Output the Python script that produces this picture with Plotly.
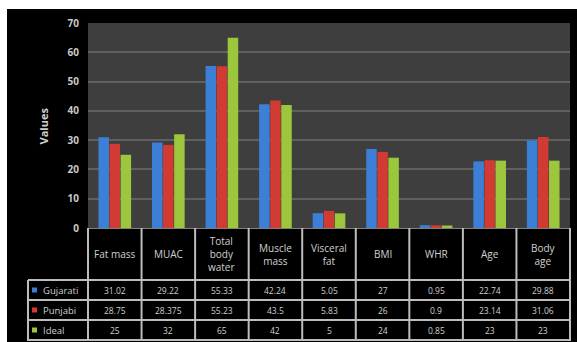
import plotly.graph_objects as go

categories = ["Fat mass", "MUAC", "Total body water", "Muscle mass", "Visceral fat",
              "BMI", "WHR", "Age", "Body age"]
header_labels = ["Fat mass", "MUAC", "Total<br>body<br>water", "Muscle<br>mass",
                 "Visceral<br>fat", "BMI", "WHR", "Age", "Body<br>age"]
series_names = ["Gujarati", "Punjabi", "Ideal"]
gujarati = [31.02, 29.22, 55.33, 42.24, 5.05, 27, 0.95, 22.74, 29.88]
punjabi = [28.75, 28.375, 55.23, 43.5, 5.83, 26, 0.9, 23.14, 31.06]
ideal = [25, 32, 65, 42, 5, 24, 0.85, 23, 23]
y_ticks = [0, 10, 20, 30, 40, 50, 60, 70]

series_values = [gujarati, punjabi, ideal]
colors = ["#3b7fd6", "#d23b33", "#9cc63c"]

W, H = 577, 342
L, R, T, B = 88, 7, 23, 114
PW, PH = W - L - R, H - T - B


def px_y(p):
    return (H - B - p) / PH


def px_x(p):
    return (p - L) / PW


fig = go.Figure()
for name, vals, col in zip(series_names, series_values, colors):
    fig.add_trace(go.Bar(x=categories, y=vals, name=name, marker_color=col,
                         marker_line_width=0))

txt_col = "#d0d0d0"
font_fam = "Open Sans, Liberation Sans, sans-serif"
ann = []
shapes = []

# header labels
for c, h in zip(categories, header_labels):
    ann.append(dict(x=c, xref="x", y=px_y(254), yref="paper", yanchor="middle",
                    text=h, showarrow=False,
                    font=dict(size=10, color=txt_col, family=font_fam), align="center"))
row_centers = [290, 310, 330]
for r, (name, vals, col) in enumerate(zip(series_names, series_values, colors)):
    yc = px_y(row_centers[r])
    for c, v in zip(categories, vals):
        ann.append(dict(x=c, xref="x", y=yc, yref="paper", yanchor="middle",
                        text=f"{v:g}", showarrow=False,
                        font=dict(size=8.5, color=txt_col, family=font_fam)))
    ann.append(dict(x=px_x(41), xref="paper", y=yc, yref="paper", yanchor="middle",
                    text=name, showarrow=False,
                    xanchor="left", font=dict(size=9.5, color=txt_col, family=font_fam)))
    shapes.append(dict(type="rect", xref="paper", yref="paper", x0=px_x(32), x1=px_x(37),
                       y0=px_y(row_centers[r] + 2.5), y1=px_y(row_centers[r] - 2.5),
                       fillcolor=col, line=dict(width=0)))

ann.append(dict(x=px_x(33), xref="paper", y=px_y(126), yref="paper", yanchor="middle",
                text="<b>Values</b>", textangle=-90, showarrow=False,
                font=dict(size=11, color=txt_col, family=font_fam)))

line_col = "#bdbdbd"
# vertical table lines
for k in range(len(categories) + 1):
    shapes.append(dict(type="line", xref="paper", yref="paper", x0=k / len(categories),
                       x1=k / len(categories), y0=px_y(228), y1=px_y(341),
                       line=dict(color=line_col, width=2)))
shapes.append(dict(type="line", xref="paper", yref="paper", x0=px_x(28), x1=px_x(28),
                   y0=px_y(280), y1=px_y(341), line=dict(color=line_col, width=2)))
for yy in [280, 300, 320, 340]:
    shapes.append(dict(type="line", xref="paper", yref="paper", x0=px_x(28), x1=1,
                       y0=px_y(yy), y1=px_y(yy), line=dict(color=line_col, width=2)))

# white page margins (top and left)
shapes.append(dict(type="rect", xref="paper", yref="paper", x0=px_x(0), x1=px_x(W),
                   y0=px_y(9), y1=px_y(0), fillcolor="white", line=dict(width=0)))
shapes.append(dict(type="rect", xref="paper", yref="paper", x0=px_x(0), x1=px_x(7),
                   y0=px_y(H), y1=px_y(0), fillcolor="white", line=dict(width=0)))

fig.update_layout(
    width=W, height=H,
    margin=dict(l=L, r=R, t=T, b=B, autoexpand=False),
    paper_bgcolor="black", plot_bgcolor="#3e3e3e",
    barmode="group", bargap=0.38, bargroupgap=0.05,
    showlegend=False,
    annotations=ann, shapes=shapes,
    xaxis=dict(showticklabels=False, showgrid=False, zeroline=False,
               showline=True, linecolor="#808080", linewidth=1),
    yaxis=dict(range=[0, 70], tickvals=y_ticks, showgrid=True, gridcolor="#606060",
               gridwidth=2, zeroline=False, showline=False,
               tickfont=dict(size=10, color="#c8c8c8", family=font_fam, weight="bold"),
               ticks="", ticklabelstandoff=8),
)

fig.write_html("out.html")
